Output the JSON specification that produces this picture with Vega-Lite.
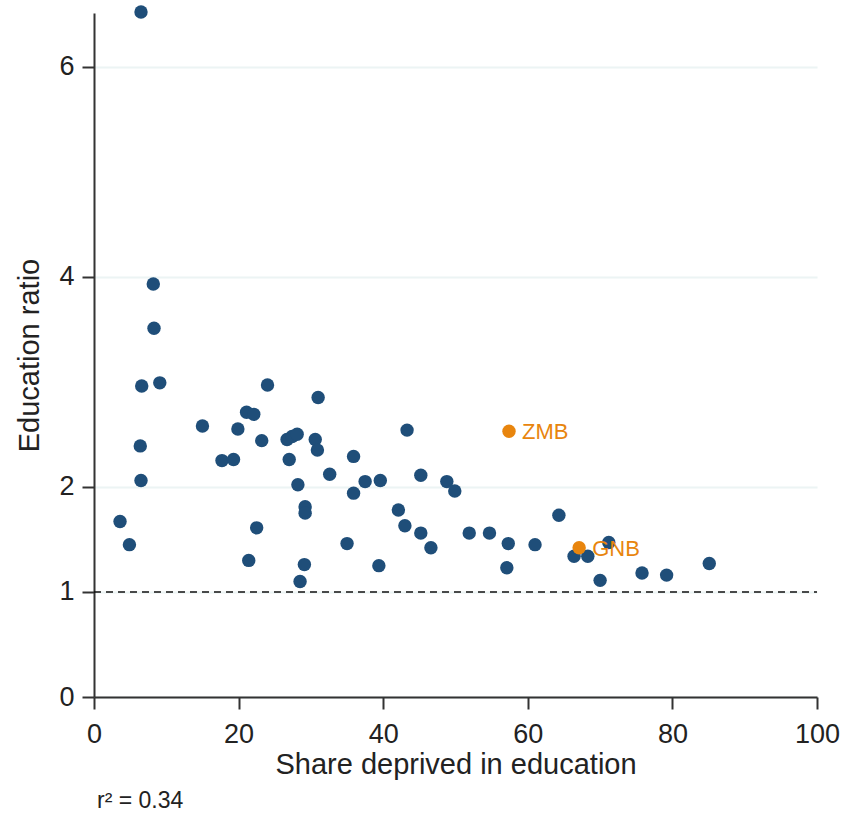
{
  "$schema": "https://vega.github.io/schema/vega-lite/v6.json",
  "autosize": {"type": "none"},
  "padding": {"left": 94, "top": 13, "right": 29, "bottom": 117},
  "width": 723,
  "height": 684,
  "background": "white",
  "config": {
    "view": {"stroke": null},
    "font": "Liberation Sans",
    "axis": {"labelFont": "Liberation Sans", "titleFont": "Liberation Sans"}
  },
  "title": {
    "text": "r² = 0.34",
    "orient": "bottom",
    "anchor": "start",
    "frame": "group",
    "fontSize": 23,
    "fontWeight": "normal",
    "color": "#222222",
    "font": "Liberation Sans",
    "offset": 11,
    "dx": 3
  },
  "datasets": {
    "points": [
      {"x": 6.5, "y": 6.52, "iso": "", "group": "other"},
      {"x": 8.2, "y": 3.93, "iso": "", "group": "other"},
      {"x": 8.3, "y": 3.51, "iso": "", "group": "other"},
      {"x": 6.6, "y": 2.96, "iso": "", "group": "other"},
      {"x": 9.1, "y": 2.99, "iso": "", "group": "other"},
      {"x": 6.4, "y": 2.39, "iso": "", "group": "other"},
      {"x": 6.5, "y": 2.06, "iso": "", "group": "other"},
      {"x": 3.6, "y": 1.67, "iso": "", "group": "other"},
      {"x": 4.9, "y": 1.45, "iso": "", "group": "other"},
      {"x": 15.0, "y": 2.58, "iso": "", "group": "other"},
      {"x": 17.7, "y": 2.25, "iso": "", "group": "other"},
      {"x": 19.3, "y": 2.26, "iso": "", "group": "other"},
      {"x": 19.9, "y": 2.55, "iso": "", "group": "other"},
      {"x": 21.1, "y": 2.71, "iso": "", "group": "other"},
      {"x": 22.1, "y": 2.69, "iso": "", "group": "other"},
      {"x": 23.2, "y": 2.44, "iso": "", "group": "other"},
      {"x": 24.0, "y": 2.97, "iso": "", "group": "other"},
      {"x": 22.5, "y": 1.61, "iso": "", "group": "other"},
      {"x": 21.4, "y": 1.30, "iso": "", "group": "other"},
      {"x": 26.7, "y": 2.45, "iso": "", "group": "other"},
      {"x": 27.4, "y": 2.48, "iso": "", "group": "other"},
      {"x": 28.1, "y": 2.50, "iso": "", "group": "other"},
      {"x": 27.0, "y": 2.26, "iso": "", "group": "other"},
      {"x": 28.2, "y": 2.02, "iso": "", "group": "other"},
      {"x": 29.2, "y": 1.81, "iso": "", "group": "other"},
      {"x": 29.2, "y": 1.75, "iso": "", "group": "other"},
      {"x": 29.1, "y": 1.26, "iso": "", "group": "other"},
      {"x": 28.5, "y": 1.10, "iso": "", "group": "other"},
      {"x": 31.0, "y": 2.85, "iso": "", "group": "other"},
      {"x": 30.6, "y": 2.45, "iso": "", "group": "other"},
      {"x": 30.9, "y": 2.35, "iso": "", "group": "other"},
      {"x": 32.6, "y": 2.12, "iso": "", "group": "other"},
      {"x": 35.9, "y": 2.29, "iso": "", "group": "other"},
      {"x": 35.9, "y": 1.94, "iso": "", "group": "other"},
      {"x": 37.5, "y": 2.05, "iso": "", "group": "other"},
      {"x": 39.6, "y": 2.06, "iso": "", "group": "other"},
      {"x": 35.0, "y": 1.46, "iso": "", "group": "other"},
      {"x": 39.4, "y": 1.25, "iso": "", "group": "other"},
      {"x": 42.1, "y": 1.78, "iso": "", "group": "other"},
      {"x": 43.0, "y": 1.63, "iso": "", "group": "other"},
      {"x": 43.3, "y": 2.54, "iso": "", "group": "other"},
      {"x": 45.2, "y": 2.11, "iso": "", "group": "other"},
      {"x": 45.2, "y": 1.56, "iso": "", "group": "other"},
      {"x": 46.6, "y": 1.42, "iso": "", "group": "other"},
      {"x": 48.8, "y": 2.05, "iso": "", "group": "other"},
      {"x": 49.9, "y": 1.96, "iso": "", "group": "other"},
      {"x": 51.9, "y": 1.56, "iso": "", "group": "other"},
      {"x": 54.7, "y": 1.56, "iso": "", "group": "other"},
      {"x": 57.3, "y": 1.46, "iso": "", "group": "other"},
      {"x": 57.1, "y": 1.23, "iso": "", "group": "other"},
      {"x": 61.0, "y": 1.45, "iso": "", "group": "other"},
      {"x": 64.3, "y": 1.73, "iso": "", "group": "other"},
      {"x": 66.4, "y": 1.34, "iso": "", "group": "other"},
      {"x": 68.3, "y": 1.34, "iso": "", "group": "other"},
      {"x": 71.2, "y": 1.47, "iso": "", "group": "other"},
      {"x": 70.0, "y": 1.11, "iso": "", "group": "other"},
      {"x": 75.8, "y": 1.18, "iso": "", "group": "other"},
      {"x": 79.2, "y": 1.16, "iso": "", "group": "other"},
      {"x": 85.1, "y": 1.27, "iso": "", "group": "other"},
      {"x": 57.4, "y": 2.53, "iso": "ZMB", "group": "highlight"},
      {"x": 67.1, "y": 1.42, "iso": "GNB", "group": "highlight"}
    ],
    "ref": [{"x0": 0, "x1": 100, "y": 1}]
  },
  "layer": [
    {
      "data": {"name": "ref"},
      "mark": {"type": "rule", "color": "#111111", "strokeWidth": 1.6, "strokeDash": [7, 5]},
      "encoding": {
        "x": {"field": "x0", "type": "quantitative", "scale": {"domain": [0, 100], "nice": false}},
        "x2": {"field": "x1"},
        "y": {"field": "y", "type": "quantitative", "scale": {"domain": [0, 6.51], "nice": false}}
      }
    },
    {
      "data": {"name": "points"},
      "mark": {"type": "circle", "size": 180, "opacity": 1},
      "encoding": {
        "x": {
          "field": "x", "type": "quantitative",
          "scale": {"domain": [0, 100], "nice": false},
          "axis": {
            "title": "Share deprived in education",
            "values": [0, 20, 40, 60, 80, 100],
            "format": "d",
            "grid": false,
            "domainColor": "#333333", "domainWidth": 2,
            "tickColor": "#333333", "tickWidth": 2, "tickSize": 12,
            "labelFontSize": 27, "labelColor": "#222222", "labelPadding": 12,
            "titleFontSize": 29, "titleFontWeight": "normal", "titleColor": "#222222", "titlePadding": 3,
            "labelFlush": false
          }
        },
        "y": {
          "field": "y", "type": "quantitative",
          "scale": {"domain": [0, 6.51], "nice": false},
          "axis": {
            "title": "Education ratio",
            "values": [0, 1, 2, 4, 6],
            "format": "d",
            "grid": true, "gridColor": "#ecf4f4", "gridWidth": 2,
            "domainColor": "#333333", "domainWidth": 2,
            "tickColor": "#333333", "tickWidth": 2, "tickSize": 12,
            "labelFontSize": 27, "labelColor": "#222222", "labelPadding": 8,
            "titleFontSize": 29, "titleFontWeight": "normal", "titleColor": "#222222", "titlePadding": 14,
            "labelFlush": false
          }
        },
        "color": {
          "field": "group", "type": "nominal",
          "scale": {"domain": ["other", "highlight"], "range": ["#1f4e79", "#e8850e"]},
          "legend": null
        }
      }
    },
    {
      "data": {"name": "points"},
      "transform": [{"filter": "datum.iso !== ''"}],
      "mark": {"type": "text", "align": "left", "baseline": "middle", "dx": 13, "dy": 1, "fontSize": 22, "color": "#e8850e", "font": "Liberation Sans"},
      "encoding": {
        "x": {"field": "x", "type": "quantitative"},
        "y": {"field": "y", "type": "quantitative"},
        "text": {"field": "iso"}
      }
    }
  ]
}
